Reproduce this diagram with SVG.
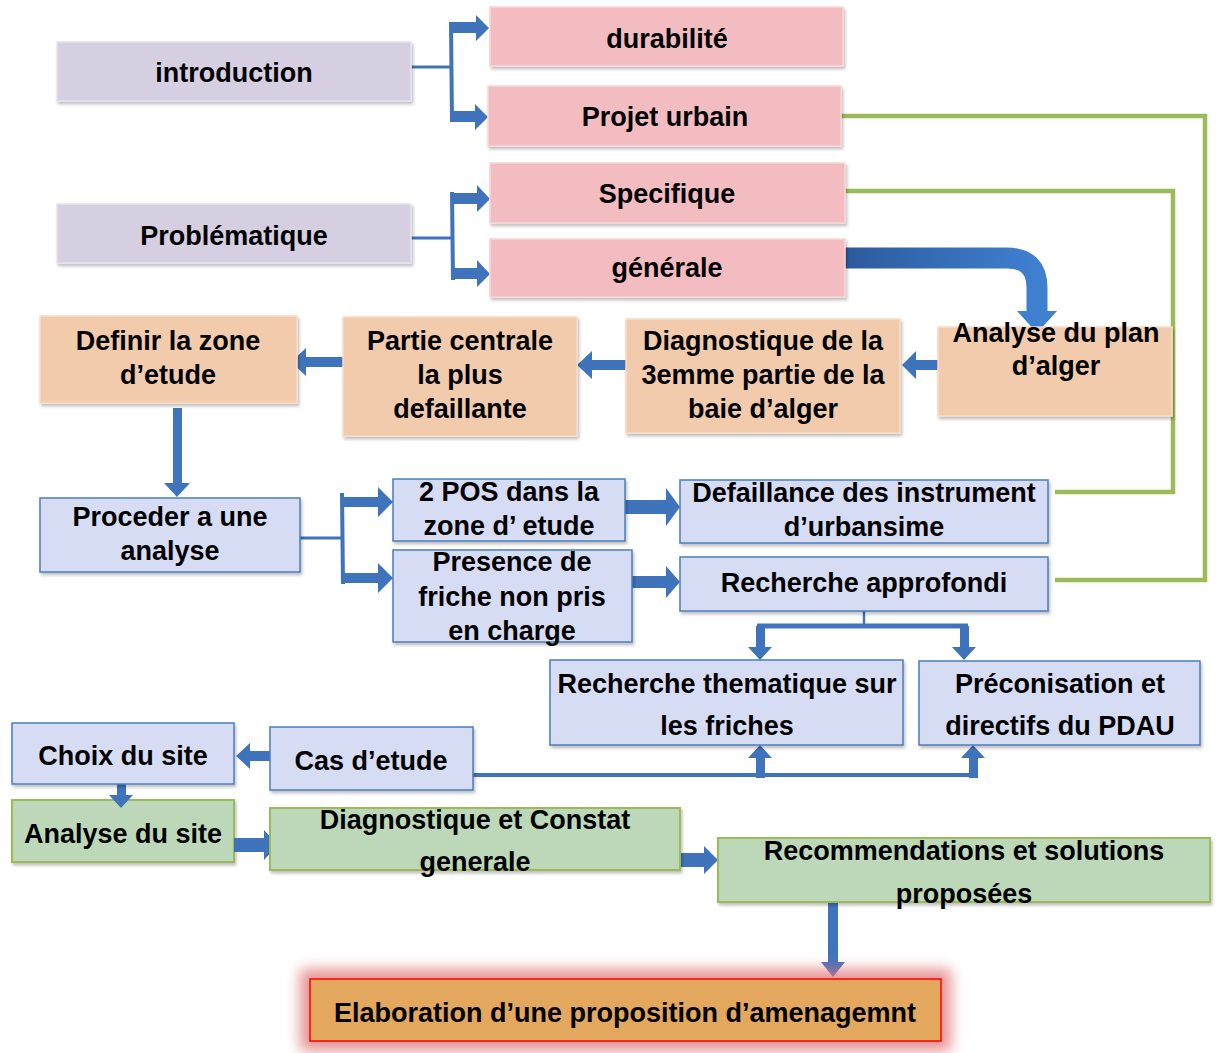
<svg xmlns="http://www.w3.org/2000/svg" width="1216" height="1053" viewBox="0 0 1216 1053">
<defs>
<style>
text{font-family:'Liberation Sans',Arial,sans-serif;font-weight:bold;font-size:27px;fill:#000;text-anchor:middle}
.lav{fill:#d5cfe1;stroke:#e6e2ee;stroke-width:1.5;filter:url(#sh)}
.pink{fill:#f3bcc0;stroke:#f8d6d8;stroke-width:1.5;filter:url(#sh)}
.peach{fill:#f2cbad;stroke:#f7dcc6;stroke-width:1.5;filter:url(#sh)}
.blue{fill:#d7dcf5;stroke:#4a7ebb;stroke-width:1.5;filter:url(#sh)}
.green{fill:#bdd8b9;stroke:#9bbb59;stroke-width:2;filter:url(#sh)}
.arr{fill:#3f74bd}
.ln{stroke:#3f74bd;fill:none}
.gl{stroke:#9bbb59;stroke-width:4.5;fill:none}
</style>
<filter id="sh" x="-5%" y="-10%" width="112%" height="130%">
<feDropShadow dx="1.5" dy="2.5" stdDeviation="1.5" flood-color="#000" flood-opacity="0.25"/>
</filter>
<filter id="glow" x="-10%" y="-40%" width="120%" height="180%">
<feGaussianBlur stdDeviation="7"/>
</filter>
<linearGradient id="cg" x1="0" y1="0" x2="1" y2="0">
<stop offset="0" stop-color="#2c5a9c"/>
<stop offset="1" stop-color="#3f80d0"/>
</linearGradient>
</defs>

<g id="n-analyse-site"><rect class="green" x="12" y="800" width="222" height="62"/><text x="123" y="843">Analyse du site</text></g>

<g id="connectors">
<!-- green feedback lines -->
<polyline class="gl" points="841,116 1205,116 1205,580 1055,580"/>
<polyline class="gl" points="845,191 1173,191 1173,492 1055,492"/>
<!-- introduction bracket -->
<line class="ln" stroke-width="3" x1="411" y1="67" x2="451" y2="67"/>
<line class="ln" stroke-width="4" x1="451" y1="22" x2="452" y2="122"/>
<polygon class="arr" points="450,22 476,22 476,15 489,28 476,41 476,33 450,33"/>
<polygon class="arr" points="452,111 475,111 475,104 488,117 475,130 475,122 452,122"/>
<!-- problematique bracket -->
<line class="ln" stroke-width="3" x1="411" y1="238" x2="451" y2="238"/>
<line class="ln" stroke-width="4" x1="452" y1="192" x2="453" y2="280"/>
<polygon class="arr" points="452,193 477,193 477,185 490,199 477,212 477,204 452,204"/>
<polygon class="arr" points="454,268 477,268 477,260 490,274 477,287 477,279 454,279"/>
<!-- generale to analyse du plan curved -->
<path d="M845,258 L1007,258 Q1037,258 1037,288 L1037,313" stroke="url(#cg)" stroke-width="21" fill="none"/>
<polygon points="1017,311 1057,311 1037,333" fill="#3f80d0"/>
<!-- analyse -> diagnostique -->
<polygon class="arr" points="938,360 916,360 916,351 902,365 916,379 916,370 938,370"/>
<!-- diagnostique -> partie -->
<polygon class="arr" points="626,360 592,360 592,351 577,365 592,379 592,370 626,370"/>
<!-- partie -> definir -->
<polygon class="arr" points="343,357 306,357 306,348 291,362 306,376 306,367 343,367"/>
<!-- definir -> proceder -->
<polygon class="arr" points="173,408 182,408 182,483 190,483 177,497 164,483 173,483"/>
<!-- proceder bracket -->
<line class="ln" stroke-width="3" x1="300" y1="538" x2="342" y2="538"/>
<line class="ln" stroke-width="4" x1="342" y1="493" x2="343" y2="584"/>
<polygon class="arr" points="342,497 378,497 378,487 393,502 378,517 378,507 342,507"/>
<polygon class="arr" points="343,573 378,573 378,563 393,578 378,593 378,583 343,583"/>
<!-- 2POS -> defaillance -->
<polygon class="arr" points="625,500 666,500 666,488 680,507 666,526 666,514 625,514"/>
<!-- presence -> recherche approfondi -->
<polygon class="arr" points="632,576 666,576 666,566 680,582 666,598 666,588 632,588"/>
<!-- recherche approfondi split -->
<line class="ln" stroke-width="2.5" x1="864" y1="611" x2="864" y2="626"/>
<line class="ln" stroke-width="5" x1="757" y1="626" x2="968" y2="626"/>
<polygon class="arr" points="756,626 765,626 765,647 772,647 760,660 748,647 756,647"/>
<polygon class="arr" points="960,626 969,626 969,647 976,647 964,660 952,647 960,647"/>
<!-- cas d'etude line up -->
<line class="ln" stroke-width="4" x1="473" y1="775" x2="978" y2="775"/>
<polygon class="arr" points="756,778 765,778 765,758 772,758 760,745 748,758 756,758"/>
<polygon class="arr" points="969,778 978,778 978,758 985,758 973,745 961,758 969,758"/>
<!-- cas d'etude -> choix -->
<polygon class="arr" points="270,751 250,751 250,743 236,756 250,769 250,761 270,761"/>
<!-- choix -> analyse du site -->
<polygon class="arr" points="117,784 126,784 126,795 133,795 121,808 109,795 117,795"/>
<!-- analyse du site -> diagnostique -->
<polygon class="arr" points="234,838 264,838 264,830 278,845 264,860 264,852 234,852"/>
<!-- diagnostique -> recommendations -->
<polygon class="arr" points="680,853 704,853 704,846 718,860 704,874 704,867 680,867"/>
<!-- recommendations -> elaboration -->
<polygon class="arr" points="828,902 838,902 838,962 845,962 833,977 821,962 828,962"/>
</g>

<g id="n-introduction"><rect class="lav" x="57" y="42" width="354" height="59"/><text x="234" y="82">introduction</text></g>
<g id="n-durabilite"><rect class="pink" x="490" y="7" width="353" height="59"/><text x="667" y="48">durabilité</text></g>
<g id="n-projet-urbain"><rect class="pink" x="488" y="86" width="353" height="60"/><text x="665" y="126">Projet urbain</text></g>
<g id="n-specifique"><rect class="pink" x="490" y="163" width="355" height="60"/><text x="667" y="203">Specifique</text></g>
<g id="n-generale"><rect class="pink" x="490" y="239" width="355" height="58"/><text x="667" y="277">générale</text></g>
<g id="n-problematique"><rect class="lav" x="57" y="204" width="354" height="59"/><text x="234" y="245">Problématique</text></g>
<g id="n-analyse-plan"><rect class="peach" x="938" y="327" width="234" height="89"/><text x="1056" y="342">Analyse du plan</text><text x="1056" y="375">d’alger</text></g>
<g id="n-diagnostique-baie"><rect class="peach" x="626" y="319" width="274" height="114"/><text x="763" y="350">Diagnostique de la</text><text x="763" y="384">3emme partie de la</text><text x="763" y="418">baie d’alger</text></g>
<g id="n-partie-centrale"><rect class="peach" x="343" y="317" width="234" height="119"/><text x="460" y="350">Partie centrale</text><text x="460" y="384">la plus</text><text x="460" y="418">defaillante</text></g>
<g id="n-definir"><rect class="peach" x="40" y="316" width="257" height="87"/><text x="168" y="350">Definir la zone</text><text x="168" y="384">d’etude</text></g>
<g id="n-proceder"><rect class="blue" x="40" y="498" width="260" height="74"/><text x="170" y="526">Proceder a une</text><text x="170" y="560">analyse</text></g>
<g id="n-2pos"><rect class="blue" x="393" y="479" width="232" height="62"/><text x="509" y="501">2 POS dans la</text><text x="509" y="535">zone d’ etude</text></g>
<g id="n-presence"><rect class="blue" x="393" y="550" width="239" height="92"/><text x="512" y="571">Presence de</text><text x="512" y="606">friche non pris</text><text x="512" y="640">en charge</text></g>
<g id="n-defaillance"><rect class="blue" x="680" y="480" width="368" height="63"/><text x="864" y="502">Defaillance des instrument</text><text x="864" y="536">d’urbansime</text></g>
<g id="n-recherche-approfondi"><rect class="blue" x="680" y="557" width="368" height="54"/><text x="864" y="592">Recherche approfondi</text></g>
<g id="n-recherche-thematique"><rect class="blue" x="550" y="660" width="353" height="85"/><text x="727" y="693">Recherche thematique sur</text><text x="727" y="735">les friches</text></g>
<g id="n-preconisation"><rect class="blue" x="919" y="661" width="281" height="84"/><text x="1060" y="693">Préconisation et</text><text x="1060" y="735">directifs du PDAU</text></g>
<g id="n-choix"><rect class="blue" x="12" y="723" width="222" height="61"/><text x="123" y="765">Choix du site</text></g>
<g id="n-cas-etude"><rect class="blue" x="270" y="727" width="203" height="63"/><text x="371" y="770">Cas d’etude</text></g>
<g id="n-diagnostique-constat"><rect class="green" x="270" y="808" width="410" height="62"/><text x="475" y="829">Diagnostique et Constat</text><text x="475" y="871">generale</text></g>
<g id="n-recommendations"><rect class="green" x="718" y="838" width="492" height="64"/><text x="964" y="860">Recommendations et solutions</text><text x="964" y="903">proposées</text></g>
<g id="n-elaboration"><rect x="300" y="969" width="651" height="82" fill="#e07070" opacity="0.75" filter="url(#glow)"/><rect x="310" y="979" width="631" height="62" fill="#e3a75d" stroke="#ff0000" stroke-width="1.5"/><text x="625" y="1022">Elaboration d’une proposition d’amenagemnt</text></g>
</svg>
